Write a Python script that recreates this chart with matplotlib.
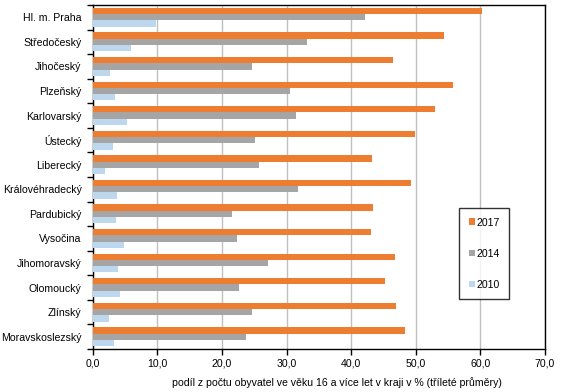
import numpy as np
import matplotlib.pyplot as plt

plt.rcParams['font.family'] = ['Liberation Sans', 'DejaVu Sans']

regions = ['Hl. m. Praha', 'Středočeský', 'Jihočeský', 'Plzeňský', 'Karlovarský',
           'Ústecký', 'Liberecký', 'Královéhradecký', 'Pardubický', 'Vysočina',
           'Jihomoravský', 'Olomoucký', 'Zlínský', 'Moravskoslezský']
v2017 = [60.3, 54.4, 46.5, 55.8, 53.0, 49.9, 43.3, 49.2, 43.4, 43.1, 46.8, 45.2, 47.0, 48.3]
v2014 = [42.1, 33.2, 24.6, 30.6, 31.4, 25.1, 25.7, 31.8, 21.5, 22.4, 27.1, 22.6, 24.6, 23.8]
v2010 = [9.8, 5.9, 2.7, 3.4, 5.3, 3.1, 1.9, 3.8, 3.6, 4.8, 3.9, 4.3, 2.6, 3.3]

c17, c14, c10 = '#ED7D31', '#A5A5A5', '#BDD7EE'
fs = 7.6

fig = plt.figure(figsize=(5.67, 3.92), dpi=100)
ax = fig.add_axes([92.7 / 567, 1 - 349 / 392, (545 - 92.7) / 567, (349 - 5) / 392])

y = np.arange(len(regions))
h = 0.255
ax.barh(y - h, v2017, height=h, color=c17, label='2017', zorder=3)
ax.barh(y, v2014, height=h, color=c14, label='2014', zorder=3)
ax.barh(y + h, v2010, height=h, color=c10, label='2010', zorder=3)

ax.set_ylim(len(regions) - 0.5, -0.5)
ax.set_xlim(0, 70)
ax.set_xticks(np.arange(0, 71, 10))
ax.set_xticklabels([f'{v:.1f}'.replace('.', ',') for v in np.arange(0, 71, 10)], fontsize=fs)
ax.set_yticks(y)
ax.set_yticklabels(regions, fontsize=fs)
ax.set_yticks(np.arange(-0.5, len(regions), 1), minor=True)
ax.tick_params(axis='y', which='major', length=0, pad=8)
ax.tick_params(axis='y', which='minor', length=4, width=1, direction='out')
ax.tick_params(axis='x', length=4, width=1, direction='out', pad=3)

ax.grid(axis='x', color='#BFBFBF', linewidth=1, zorder=0)
for s in ax.spines.values():
    s.set_linewidth(1)
    s.set_color('black')

fig.text(337 / 567, 1 - 383 / 392,
         'podíl z počtu obyvatel ve věku 16 a více let v kraji v % (tříleté průměry)',
         fontsize=fs, ha='center', va='center')

leg = ax.legend(loc='upper left', bbox_to_anchor=(459 / 567, 1 - 208 / 392),
                bbox_transform=fig.transFigure, fontsize=fs, frameon=True,
                fancybox=False, edgecolor='black', handlelength=0.6, handleheight=0.6,
                handletextpad=0.15, labelspacing=2.0, borderpad=0.9, borderaxespad=0)
leg.get_frame().set_linewidth(1)

fig.savefig('out.png', dpi=100)
